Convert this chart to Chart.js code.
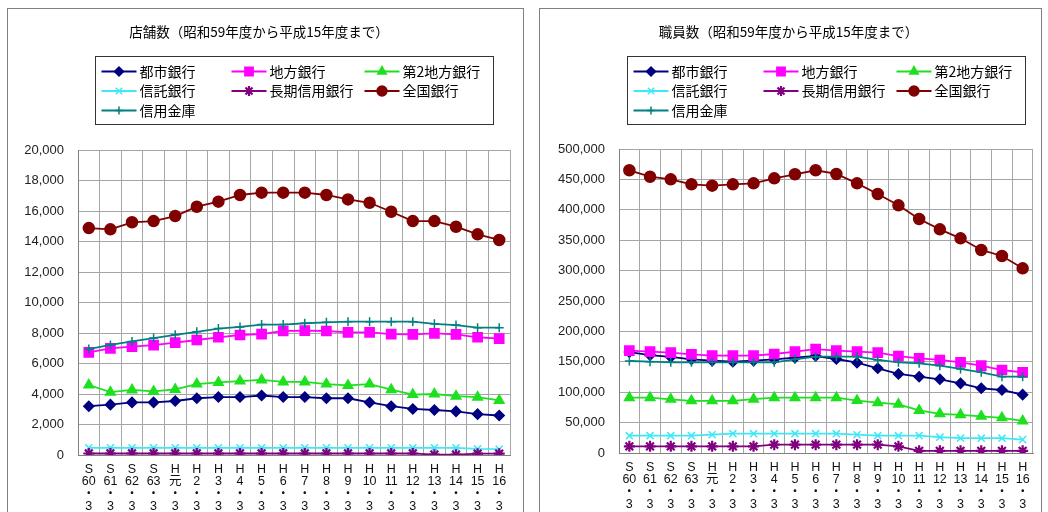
<!DOCTYPE html>
<html>
<head>
<meta charset="utf-8">
<script src="https://cdn.jsdelivr.net/npm/chart.js@4.4.1/dist/chart.umd.min.js"></script>
<style>
html, body { margin: 0; padding: 0; background: #fff; width: 1048px; height: 512px; overflow: hidden; }
.box { position: absolute; top: 8px; height: 530px; border: 1px solid #808080; background: #fff; }
#b1 { left: 7px; width: 515px; }
#b2 { left: 539px; width: 501px; }
canvas { display: block; }
</style>
</head>
<body>
<div class="box" id="b1"><canvas id="c1" width="515" height="520"></canvas></div>
<div class="box" id="b2"><canvas id="c2" width="501" height="520"></canvas></div>
<script>
// 年度ラベル (S60.3 ～ H16.3)
var eras  = ['S','S','S','S','H','H','H','H','H','H','H','H','H','H','H','H','H','H','H','H'];
var years = ['60','61','62','63','元','2','3','4','5','6','7','8','9','10','11','12','13','14','15','16'];
var seriesNames = ['都市銀行', '地方銀行', '第2地方銀行', '信託銀行', '長期信用銀行', '全国銀行', '信用金庫'];

// 店舗数
var branchCity      = [3200,3300,3450,3450,3540,3720,3800,3800,3900,3800,3800,3720,3720,3450,3200,3020,2950,2860,2680,2590];
var branchRegional  = [6730,6990,7100,7210,7370,7540,7720,7870,7930,8130,8150,8130,8040,8040,7930,7910,7980,7910,7720,7630];
var branchRegional2 = [4590,4120,4270,4170,4300,4650,4760,4850,4920,4790,4790,4650,4560,4650,4280,3960,4000,3860,3790,3580];
var branchTrust     = [470,470,470,470,470,470,470,470,470,470,470,470,470,470,470,470,470,470,400,380];
var branchLongTerm  = [100,100,100,100,100,100,100,100,100,100,100,100,100,100,100,100,20,20,90,90];
var branchAll       = [14880,14800,15260,15340,15670,16280,16610,17050,17200,17200,17200,17050,16760,16540,15950,15340,15340,14970,14470,14100];
var branchShinkin   = [6950,7220,7450,7670,7880,8080,8290,8400,8550,8550,8640,8700,8740,8740,8740,8740,8600,8520,8350,8350];

// 職員数
var staffCity      = [166000,161000,158000,154000,151800,150200,151800,154100,156800,159500,154600,148500,139300,130000,125500,121200,114600,106400,103600,96000];
var staffRegional  = [168300,166600,165000,162300,160100,160100,160100,162800,166600,171000,168300,166600,165000,159500,155700,153000,149100,143600,136500,132700];
var staffRegional2 = [91000,91000,88300,85800,85800,85800,88600,91000,91000,91000,91000,86300,82700,80100,70100,64500,62800,60300,57800,52800];
var staffTrust     = [28500,28500,28500,28500,30100,31800,31800,31800,31800,31800,31800,30100,28500,28500,28500,26100,24400,24400,24400,22000];
var staffLongTerm  = [10900,10900,10900,10900,10900,10900,10900,13700,13700,13700,13700,13700,13700,10900,3600,3600,3600,3600,3600,3600];
var staffAll       = [465000,454400,450100,441900,439700,441900,443500,451800,458400,465000,458900,443500,426000,407400,384900,367900,353100,333900,324000,303700];
var staffShinkin   = [151300,150200,149100,149100,149100,149100,149100,149100,154100,158400,158400,158400,153000,149100,147500,143600,138200,132700,125500,125500];

var labels = eras.map(function (e, i) { return [e, years[i], '・', '3']; });

var styles = [
    { color: '#000080', point: 'rectRot',  radius: 5 },
    { color: '#ff00ff', point: 'rect',     radius: 6.5 },
    { color: '#1fe01f', point: 'triangle', radius: 5.5 },
    { color: '#3ee8f5', point: 'crossRot', radius: 5 },
    { color: '#800080', point: 'star',     radius: 5.5 },
    { color: '#800000', point: 'circle',   radius: 5.5 },
    { color: '#008080', point: 'cross',    radius: 4.5 }
];

function makeDatasets(values) {
    return values.map(function (v, i) {
        var s = styles[i];
        return {
            label: seriesNames[i],
            data: v,
            borderColor: s.color,
            backgroundColor: s.color,
            pointStyle: s.point,
            pointRadius: s.radius,
            pointBorderWidth: s.point === 'star' ? 2.2 : 1.5,
            pointBackgroundColor: s.color,
            pointBorderColor: s.color,
            borderWidth: 1.8,
            tension: 0,
            fill: false,
            order: values.length - i
        };
    });
}

// 枠付きの凡例 (3列)
var boxLegend = {
    id: 'boxLegend',
    afterDraw: function (chart, args, opts) {
        var ctx = chart.ctx;
        var ca = chart.chartArea;
        var x0 = Math.round((ca.left + ca.right) / 2 - opts.width / 2) + 0.5;
        var y0 = opts.top + 0.5;
        ctx.save();
        ctx.strokeStyle = '#333';
        ctx.lineWidth = 1;
        ctx.strokeRect(x0, y0, opts.width, opts.height);
        ctx.font = '14px "Noto Sans CJK JP"';
        ctx.textBaseline = 'middle';
        var prevEnd = 0;
        chart.data.datasets.forEach(function (ds, i) {
            var row = Math.floor(i / 3), col = i % 3;
            if (col === 0) prevEnd = 0;
            var x = Math.max(x0 + opts.cols[col], prevEnd + 4);
            var y = y0 + 15 + row * 19.5;
            ctx.strokeStyle = ds.borderColor;
            ctx.fillStyle = ds.backgroundColor;
            ctx.lineWidth = 1.8;
            ctx.beginPath();
            ctx.moveTo(x, y);
            ctx.lineTo(x + 35, y);
            ctx.stroke();
            ctx.lineWidth = ds.pointBorderWidth;
            Chart.helpers.drawPoint(ctx, { pointStyle: ds.pointStyle, radius: ds.pointRadius * 0.9, borderWidth: ds.pointBorderWidth }, x + 17.5, y);
            ctx.fillStyle = '#000';
            ctx.fillText(ds.label, x + 38, y);
            prevEnd = x + 38 + ctx.measureText(ds.label).width;
        });
        ctx.restore();
    }
};

function makeChart(id, title, values, yMax, yStep, yWidth, xHeight, padRight, titleBottom) {
    return new Chart(document.getElementById(id), {
        type: 'line',
        data: { labels: labels, datasets: makeDatasets(values) },
        plugins: [boxLegend],
        options: {
            responsive: false,
            animation: false,
            layout: { padding: { left: 0, right: padRight, top: 0, bottom: 0 } },
            plugins: {
                legend: { display: false },
                tooltip: { enabled: false },
                title: {
                    display: true,
                    text: title,
                    color: '#000',
                    font: { family: '"Noto Sans CJK JP"', size: 13.5, weight: 'normal', lineHeight: 1.2 },
                    padding: { top: 15, bottom: titleBottom }
                },
                boxLegend: { width: 398, height: 68, top: 47, cols: [6, 136, 269] }
            },
            scales: {
                x: {
                    offset: true,
                    grid: { offset: true, color: '#a6a6a6', drawTicks: false },
                    border: { color: '#808080' },
                    ticks: {
                        autoSkip: false,
                        maxRotation: 0,
                        padding: 8,
                        color: '#111',
                        font: { family: '"Liberation Sans", "Noto Sans CJK JP"', size: 12.5, lineHeight: 1.0 }
                    },
                    afterFit: function (s) { s.height = xHeight; }
                },
                y: {
                    min: 0,
                    max: yMax,
                    grid: { color: '#a6a6a6', drawTicks: false },
                    border: { color: '#808080' },
                    ticks: {
                        stepSize: yStep,
                        padding: 14,
                        color: '#222',
                        font: { family: '"Liberation Sans"', size: 13 },
                        callback: function (v) { return v.toLocaleString('en-US'); }
                    },
                    afterFit: function (s) { s.width = yWidth; }
                }
            }
        }
    });
}

makeChart('c1', '店舗数（昭和59年度から平成15年度まで）',
    [branchCity, branchRegional, branchRegional2, branchTrust, branchLongTerm, branchAll, branchShinkin],
    20000, 2000, 70, 74, 13, 109.8);

makeChart('c2', '職員数（昭和59年度から平成15年度まで）',
    [staffCity, staffRegional, staffRegional2, staffTrust, staffLongTerm, staffAll, staffShinkin],
    500000, 50000, 79, 76, 4, 108.8);
</script>
</body>
</html>
